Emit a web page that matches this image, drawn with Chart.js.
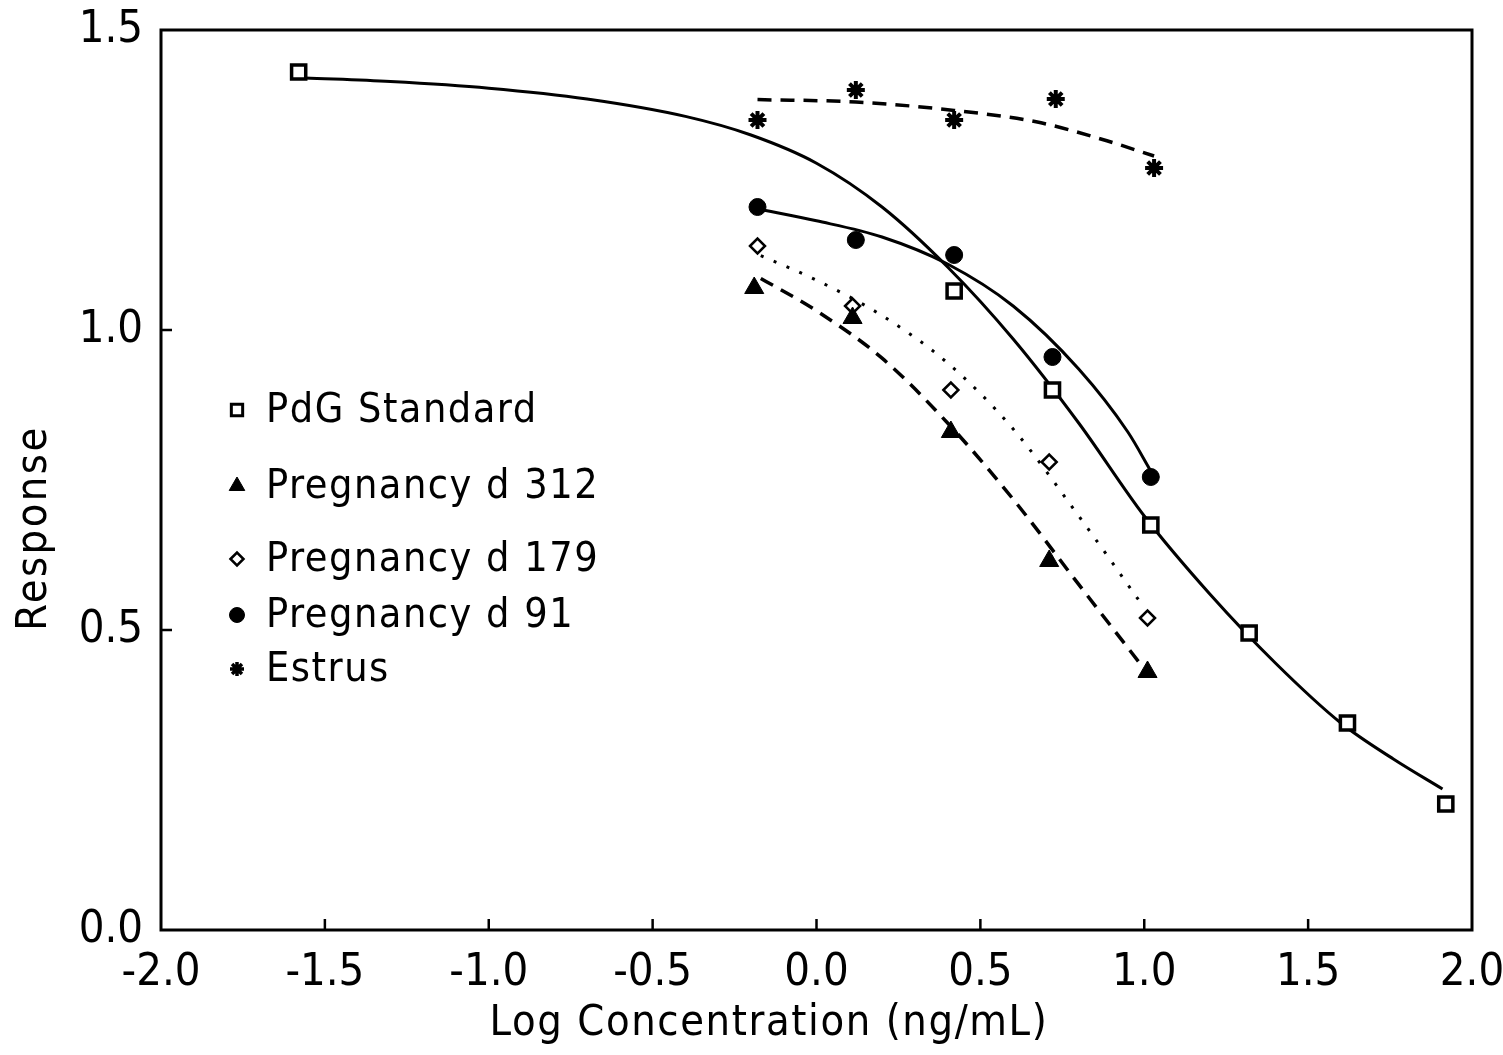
<!DOCTYPE html>
<html>
<head>
<meta charset="utf-8">
<script src="https://cdn.jsdelivr.net/npm/chart.js@4.4.0/dist/chart.umd.min.js"></script>
<style>
  html, body { margin: 0; padding: 0; background: #fff; }
  #wrap { width: 1503px; height: 1055px; }
</style>
</head>
<body>
<div id="wrap"><canvas id="c" width="1503" height="1055"></canvas></div>
<script>
const FONT = "'DejaVu Sans Condensed', 'DejaVu Sans', sans-serif";

const xTickLabels = ['-2.0', '-1.5', '-1.0', '-0.5', '0.0', '0.5', '1.0', '1.5', '2.0'];
const yTickLabels = ['0.0', '0.5', '1.0', '1.5'];
const seriesNames = ['PdG Standard', 'Pregnancy d 312', 'Pregnancy d 179', 'Pregnancy d 91', 'Estrus'];
const xTitle = 'Log Concentration (ng/mL)';
const yTitle = 'Response';

// measured points
const stdX = [-1.58, 0.42, 0.72, 1.02, 1.32, 1.62, 1.92];
const stdY = [1.43, 1.065, 0.90, 0.675, 0.495, 0.345, 0.21];
const d312X = [-0.19, 0.11, 0.41, 0.71, 1.01];
const d312Y = [1.07, 1.02, 0.83, 0.615, 0.43];
const d179X = [-0.18, 0.11, 0.41, 0.71, 1.01];
const d179Y = [1.14, 1.04, 0.90, 0.78, 0.52];
const d91X = [-0.18, 0.12, 0.42, 0.72, 1.02];
const d91Y = [1.205, 1.15, 1.125, 0.955, 0.755];
const estX = [-0.18, 0.12, 0.42, 0.73, 1.03];
const estY = [1.35, 1.40, 1.35, 1.385, 1.27];

// fitted curves
const stdFitX = [-1.56, -1.30, -1.00, -0.70, -0.40, -0.20, 0.00, 0.20, 0.40, 0.60, 0.80, 1.00, 1.20, 1.40, 1.60, 1.76, 1.91];
const stdFitY = [1.420, 1.414, 1.403, 1.385, 1.356, 1.325, 1.278, 1.205, 1.105, 0.985, 0.845, 0.690, 0.560, 0.445, 0.345, 0.285, 0.235];
const d312FitX = [-0.17, 0.00, 0.20, 0.40, 0.60, 0.80, 1.01];
const d312FitY = [1.086, 1.032, 0.953, 0.845, 0.718, 0.576, 0.428];
const d179FitX = [-0.17, 0.00, 0.20, 0.40, 0.60, 0.80, 1.00];
const d179FitY = [1.124, 1.083, 1.024, 0.945, 0.835, 0.690, 0.537];
const d91FitX = [-0.18, 0.00, 0.20, 0.40, 0.60, 0.80, 0.95, 1.02];
const d91FitY = [1.202, 1.182, 1.155, 1.110, 1.040, 0.935, 0.830, 0.765];
const estFitX = [-0.18, 0.12, 0.42, 0.67, 0.87, 1.03];
const estFitY = [1.384, 1.380, 1.366, 1.347, 1.318, 1.290];

function pts(xs, ys) {
  return xs.map((x, i) => ({ x: x, y: ys[i] }));
}

function markers(label, xs, ys, style, r, bw, fill) {
  return {
    label: label,
    data: pts(xs, ys),
    showLine: false,
    pointStyle: style,
    pointRadius: r,
    pointHoverRadius: r,
    pointBorderWidth: bw,
    pointBorderColor: '#000',
    pointBackgroundColor: fill
  };
}

function curve(xs, ys, dash, width) {
  return {
    label: '',
    data: pts(xs, ys),
    showLine: true,
    pointRadius: 0,
    borderColor: '#000',
    borderWidth: width || 3,
    borderDash: dash,
    cubicInterpolationMode: 'monotone',
    fill: false
  };
}

// small legend markers (drawn by the plugin)
const legendMarks = [
  { style: 'rect', r: 8, bw: 3, fill: '#fff', y: 410 },
  { style: 'triangle', r: 9, bw: 1, fill: '#000', y: 486 },
  { style: 'rectRot', r: 6.5, bw: 2.5, fill: '#fff', y: 559 },
  { style: 'circle', r: 7.5, bw: 1, fill: '#000', y: 615 },
  { style: 'star', r: 7, bw: 3.5, fill: '#000', y: 669 }
];

const framePlugin = {
  id: 'frame',
  beforeDatasetsDraw(chart) {
    const { ctx, chartArea: a, scales } = chart;
    ctx.save();
    ctx.strokeStyle = '#000';
    ctx.lineWidth = 3;
    ctx.strokeRect(a.left, a.top, a.right - a.left, a.bottom - a.top);
    ctx.lineWidth = 2.5;
    scales.x.ticks.forEach(t => {
      if (t.value <= scales.x.min || t.value >= scales.x.max) return;
      const px = scales.x.getPixelForValue(t.value);
      ctx.beginPath();
      ctx.moveTo(px, a.bottom);
      ctx.lineTo(px, a.bottom - 11);
      ctx.stroke();
    });
    scales.y.ticks.forEach(t => {
      if (t.value <= scales.y.min || t.value >= scales.y.max) return;
      const py = scales.y.getPixelForValue(t.value);
      ctx.beginPath();
      ctx.moveTo(a.left, py);
      ctx.lineTo(a.left + 11, py);
      ctx.stroke();
    });

    // axis titles, set a little off centre as in the original
    ctx.fillStyle = '#000';
    ctx.font = '43px ' + FONT;
    ctx.textAlign = 'center';
    ctx.textBaseline = 'middle';
    ctx.letterSpacing = '1.6px';
    ctx.fillText(xTitle, 769, 1024);
    ctx.translate(35, 528);
    ctx.rotate(-Math.PI / 2);
    ctx.letterSpacing = '2.5px';
    ctx.fillText(yTitle, 0, 0);
    ctx.restore();
  }
};

const legendPlugin = {
  id: 'sideLegend',
  afterDatasetsDraw(chart) {
    const ctx = chart.ctx;
    ctx.save();
    legendMarks.forEach((m, i) => {
      ctx.fillStyle = m.fill;
      ctx.strokeStyle = '#000';
      ctx.lineWidth = m.bw;
      Chart.helpers.drawPoint(ctx, { pointStyle: m.style, radius: m.r, borderWidth: m.bw, rotation: 0 }, 237, m.y);
      ctx.fillStyle = '#000';
      ctx.font = '41px ' + FONT;
      ctx.letterSpacing = '1.5px';
      ctx.textBaseline = 'middle';
      ctx.textAlign = 'left';
      ctx.fillText(seriesNames[i], 266, m.y + 1);
    });
    ctx.restore();
  }
};

new Chart(document.getElementById('c'), {
  type: 'scatter',
  data: {
    datasets: [
      markers(seriesNames[0], stdX, stdY, 'rect', 10, 3.5, '#fff'),
      markers(seriesNames[1], d312X, d312Y, 'triangle', 11, 1, '#000'),
      markers(seriesNames[2], d179X, d179Y, 'rectRot', 7.5, 2.5, '#fff'),
      markers(seriesNames[3], d91X, d91Y, 'circle', 8.5, 1, '#000'),
      markers(seriesNames[4], estX, estY, 'star', 9, 4, '#000'),
      curve(stdFitX, stdFitY, [], 3),
      curve(d312FitX, d312FitY, [14, 9], 3.5),
      curve(d179FitX, d179FitY, [3, 11], 3),
      curve(d91FitX, d91FitY, [], 3),
      curve(estFitX, estFitY, [14, 9], 3.5)
    ]
  },
  options: {
    responsive: false,
    animation: false,
    devicePixelRatio: 1,
    layout: { padding: { top: 30, right: 31, left: 0, bottom: 0 } },
    plugins: {
      legend: { display: false },
      tooltip: { enabled: false }
    },
    scales: {
      x: {
        type: 'linear',
        min: -2,
        max: 2,
        grid: { display: false, drawTicks: false },
        border: { display: false },
        ticks: {
          stepSize: 0.5,
          autoSkip: false,
          maxRotation: 0,
          padding: 16,
          color: '#000',
          font: { family: FONT, size: 45 },
          callback: (v, i) => xTickLabels[i]
        },
        afterFit(scale) {
          scale.height = 125;
          scale.paddingLeft = 0;
          scale.paddingRight = 0;
        }
      },
      y: {
        type: 'linear',
        min: 0,
        max: 1.5,
        grid: { display: false, drawTicks: false },
        border: { display: false },
        ticks: {
          stepSize: 0.5,
          padding: 18,
          color: '#000',
          font: { family: FONT, size: 45 },
          callback: (v, i) => yTickLabels[i]
        },
        afterFit(scale) {
          scale.width = 161;
          scale.paddingTop = 0;
          scale.paddingBottom = 0;
        }
      }
    }
  },
  plugins: [framePlugin, legendPlugin]
});
</script>
</body>
</html>
